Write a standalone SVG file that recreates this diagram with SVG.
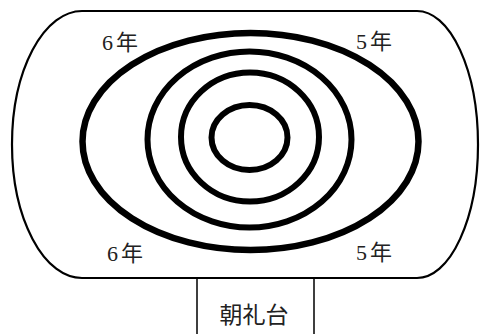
<svg xmlns="http://www.w3.org/2000/svg" width="481" height="334" viewBox="0 0 481 334">
<style>
.ring{fill:none;stroke:#000;stroke-width:6}
.frame{fill:none;stroke:#000;stroke-width:2.2}
.lbl{font-family:"Liberation Serif","Noto Sans CJK JP",serif;font-size:22px;fill:#222}
.kanji{font-family:"Noto Sans CJK JP","Noto Sans CJK SC",sans-serif;font-size:22px}
.stage{font-family:"Noto Sans CJK JP","Noto Sans CJK SC",sans-serif;font-size:23px;fill:#222}
</style>
<rect width="481" height="334" fill="#fff"/>
<g id="field">
<path class="frame" d="M82,11 H417 A61,133.5 0 0 1 417,278 H82 A70,133.5 0 0 1 82,11 Z"/>
</g>
<g id="rings">
<ellipse id="ring4" class="ring" cx="250.5" cy="141.5" rx="168" ry="108.5" style="stroke-width:6.5"/>
<ellipse id="ring3" class="ring" cx="249.5" cy="139.5" rx="102" ry="88"/>
<ellipse id="ring2" class="ring" cx="250" cy="137" rx="69" ry="64.5"/>
<ellipse id="ring1" class="ring" cx="249.5" cy="137.5" rx="38" ry="32.5"/>
</g>
<g id="labels">
<text class="lbl" x="102" y="50">6<tspan class="kanji" dx="3">年</tspan></text>
<text class="lbl" x="356" y="49">5<tspan class="kanji" dx="3">年</tspan></text>
<text class="lbl" x="107" y="261">6<tspan class="kanji" dx="3">年</tspan></text>
<text class="lbl" x="356" y="260">5<tspan class="kanji" dx="3">年</tspan></text>
</g>
<g id="stage">
<path d="M197,278 V334 M314,278 V334" fill="none" stroke="#000" stroke-width="1.5"/>
<text class="stage" x="254" y="323" text-anchor="middle">朝礼台</text>
</g>
</svg>
